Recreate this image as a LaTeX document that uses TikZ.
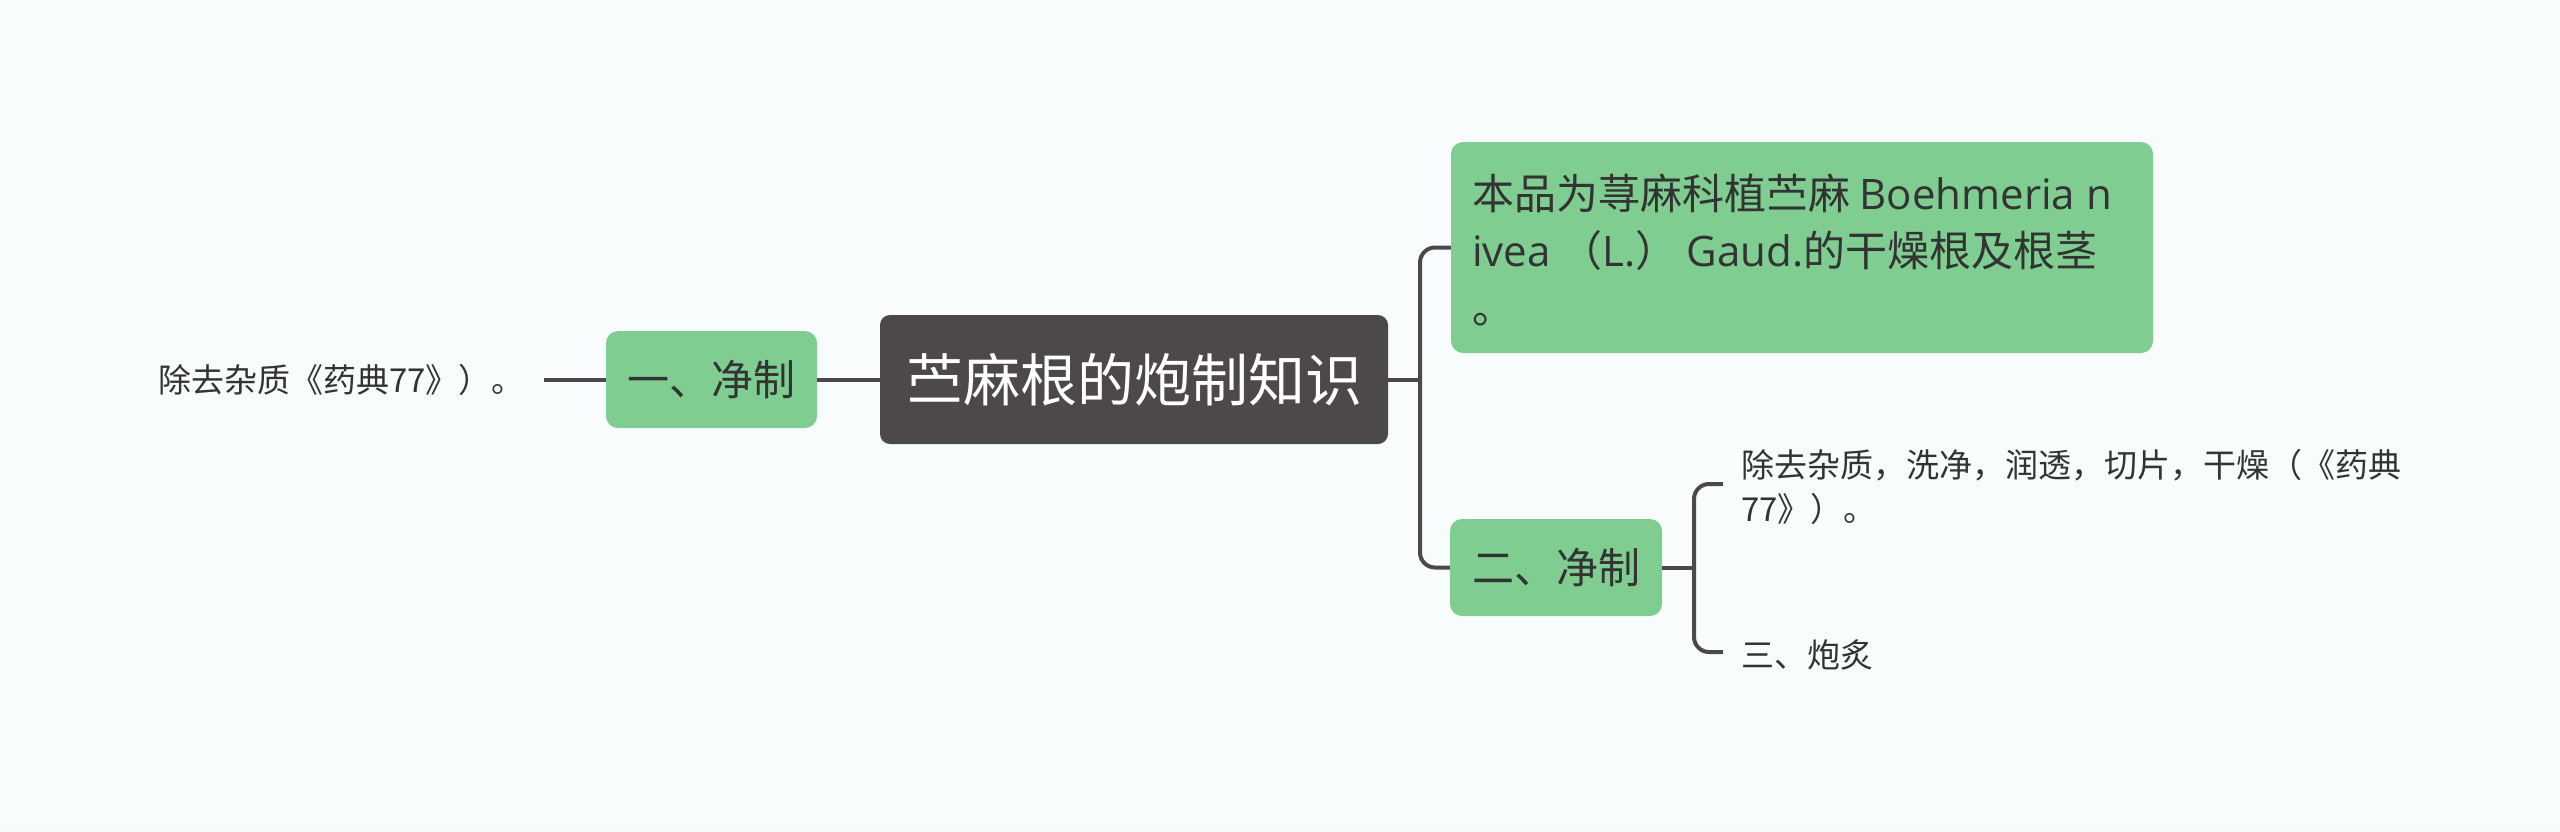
\documentclass[tikz,border=0pt]{standalone}
\usepackage{fontspec}
\setmainfont{Noto Sans CJK SC}
\newfontfamily\latinfont{Open Sans}
\definecolor{bgc}{HTML}{F8FCFD}
\definecolor{rootc}{HTML}{4D4948}
\definecolor{greenc}{HTML}{7FCD91}
\definecolor{linec}{HTML}{4D4948}
\definecolor{textc}{HTML}{333333}
\begin{document}
\begin{tikzpicture}[x=1pt,y=-1pt,
  conn/.style={draw=linec, line width=4pt},
  rootbox/.style={fill=rootc, rounded corners=10pt, minimum width=508pt, minimum height=129pt, inner sep=0pt, text=white, font=\fontsize{57}{60}\selectfont},
  greenbox/.style={fill=greenc, rounded corners=12pt, inner sep=0pt, text=textc},
  plaintext/.style={inner sep=0pt, text=textc, font=\fontsize{33}{44}\selectfont, align=left}
]
\fill[bgc] (0,0) rectangle (2560,831);
\useasboundingbox (0,0) rectangle (2560,831);

\node[rootbox] (root) at (1134,379.5) {苎麻根的炮制知识};
\node[greenbox, minimum width=211pt, minimum height=97pt, font=\fontsize{42}{50}\selectfont] (a) at (711.5,379.5) {一、净制};
\node[plaintext, anchor=west] (a1) at (158,380) {除去杂质《药典77》）。};
\coordinate (a1e) at (544,379.5);

\node[greenbox, minimum width=702pt, minimum height=211pt] (b) at (1802,247.5) {};
\node[plaintext, anchor=west, font=\fontsize{42}{57}\selectfont] (bt) at (1472,250) {本品为荨麻科植苎麻 {\latinfont Boehmeria n}\\{\latinfont ivea} （{\latinfont L.}） {\latinfont Gaud.}的干燥根及根茎\\。};

\node[greenbox, minimum width=212pt, minimum height=97pt, font=\fontsize{42}{50}\selectfont] (c) at (1556,567.5) {二、净制};
\node[plaintext, anchor=west] (c1) at (1741,487) {除去杂质，洗净，润透，切片，干燥（《药典\\77》）。};
\node[plaintext, anchor=west] (c2) at (1741,655) {三、炮炙};

\coordinate (j1) at (1420,379.5);
\coordinate (j2) at (1694,567.5);
\coordinate (c1e) at (1723,484);
\coordinate (c2e) at (1723,652);

\draw[conn] (a1e) -- (a.west);
\draw[conn] (a.east) -- (root.west);
\draw[conn] (root.east) -- (j1);
\draw[conn, rounded corners=15pt] (b.west) -| (j1) |- (c.west);
\draw[conn] (c.east) -- (j2);
\draw[conn, rounded corners=15pt] (c1e) -| (j2) |- (c2e);
\end{tikzpicture}
\end{document}
